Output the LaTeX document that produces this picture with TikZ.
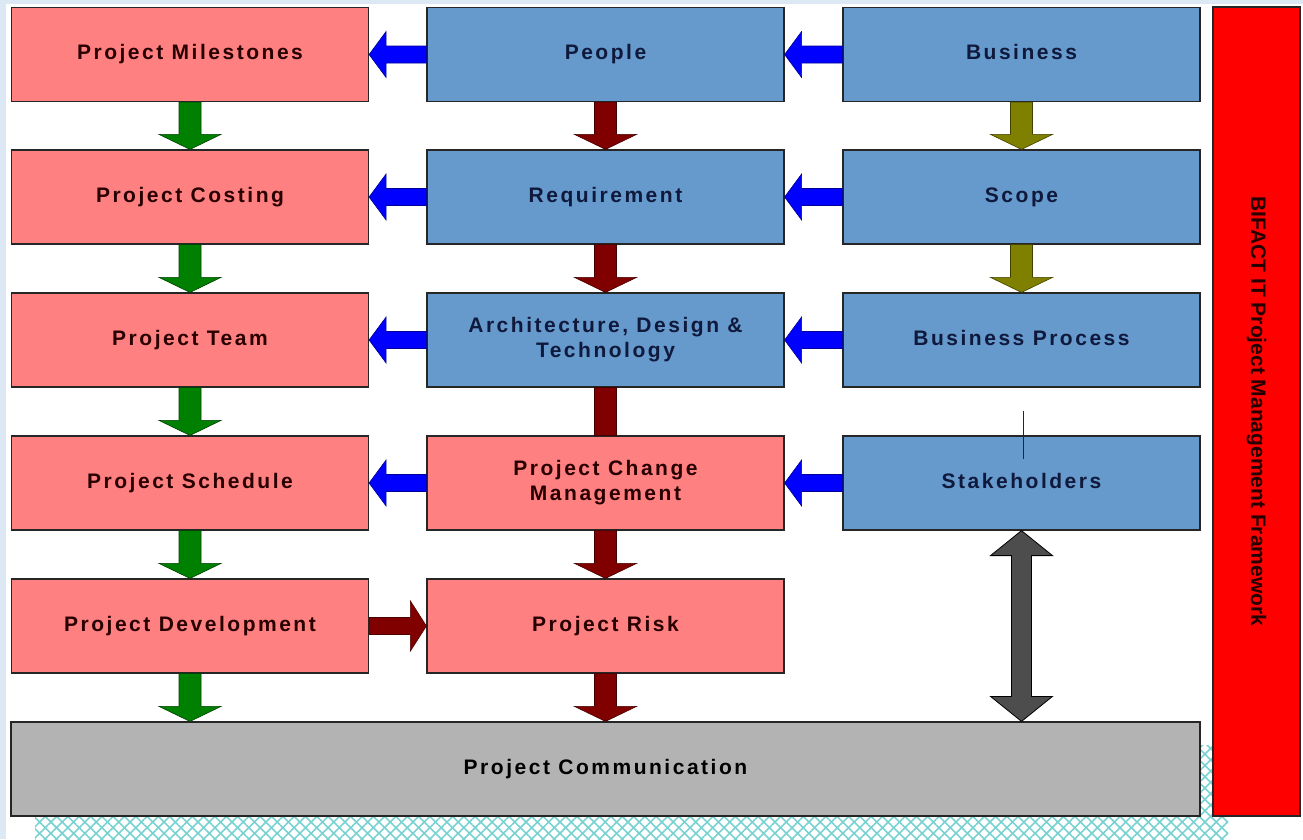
\documentclass[tikz,border=0pt]{standalone}
\usepackage{fontspec}
\setmainfont{Liberation Sans}[LetterSpace=12]
\newfontfamily\barfont{Liberation Sans}
\usetikzlibrary{calc,patterns.meta}
\definecolor{bgblue}{RGB}{220,232,244}
\definecolor{salmon}{RGB}{255,128,128}
\definecolor{boxblue}{RGB}{102,153,204}
\definecolor{boxgray}{RGB}{179,179,179}
\definecolor{barred}{RGB}{255,0,0}
\definecolor{arrblue}{RGB}{0,0,255}
\definecolor{arrred}{RGB}{128,0,0}
\definecolor{arrgreen}{RGB}{0,128,0}
\definecolor{arrolive}{RGB}{128,128,0}
\definecolor{arrgray}{RGB}{77,77,77}
\definecolor{txtred}{RGB}{40,0,0}
\definecolor{txtblue}{RGB}{15,25,60}
\definecolor{hatch}{RGB}{120,210,210}
\newcommand\leftblock[3]{\fill[#3, draw=#3!60!black, line width=0.6pt] let \p1=(#1.west), \p2=(#2.east) in
  (\x1,\y1+8.5pt) -- (\x2+17pt,\y1+8.5pt) -- (\x2+17pt,\y1+23pt) -- (\x2,\y1) -- (\x2+17pt,\y1-23pt) -- (\x2+17pt,\y1-8.5pt) -- (\x1,\y1-8.5pt) -- cycle;}
\newcommand\rightblock[3]{\fill[#3, draw=#3!60!black, line width=0.6pt] let \p1=(#1.east), \p2=(#2.west) in
  (\x1,\y1+8.5pt) -- (\x2-16pt,\y1+8.5pt) -- (\x2-16pt,\y1+25pt) -- (\x2,\y1) -- (\x2-16pt,\y1-25pt) -- (\x2-16pt,\y1-8.5pt) -- (\x1,\y1-8.5pt) -- cycle;}
\newcommand\downblock[3]{\fill[#3, draw=#3!50!black, line width=0.6pt] let \p1=(#1.south), \p2=(#2.north) in
  (\x1-11pt,\y1) -- (\x1+11pt,\y1) -- (\x1+11pt,\y2+15pt) -- (\x1+31pt,\y2+15pt) -- (\x1,\y2) -- (\x1-31pt,\y2+15pt) -- (\x1-11pt,\y2+15pt) -- cycle;}
\newcommand\downbar[3]{\fill[#3, draw=#3!50!black, line width=0.6pt] let \p1=(#1.south), \p2=(#2.north) in
  (\x1-11pt,\y1) -- (\x1+11pt,\y1) -- (\x1+11pt,\y2) -- (\x1-11pt,\y2) -- cycle;}
\newcommand\dblblock[3]{\fill[#3, draw=black, line width=0.8pt] let \p1=(#1.south), \p2=(#2.north) in
  (\x1,\y1) -- (\x1+31pt,\y1-25pt) -- (\x1+10pt,\y1-25pt) -- (\x1+10pt,\y2+25pt) -- (\x1+31pt,\y2+25pt) -- (\x1,\y2) -- (\x1-31pt,\y2+25pt) -- (\x1-10pt,\y2+25pt) -- (\x1-10pt,\y1-25pt) -- (\x1-31pt,\y1-25pt) -- cycle;}
\tikzset{
  box/.style={draw=black!85, line width=1.2pt, inner sep=0pt, minimum width=357pt, minimum height=94pt,
    align=center, font=\bfseries\fontsize{21}{25}\selectfont},
  oneline/.style={text height=15pt, text depth=4.5pt},
  redbox/.style={box, fill=salmon, text=txtred},
  bluebox/.style={box, fill=boxblue, text=txtblue},
}
\begin{document}
\begin{tikzpicture}[x=1pt,y=-1pt]
\useasboundingbox (0,0) rectangle (1303,839);
% background
\fill[bgblue] (0,0) rectangle (1303,839);
\fill[white] (6,4) rectangle (1303,839);
\fill[pattern={Lines[angle=45,distance=8pt,line width=1.6pt]}, pattern color=hatch] (35,745) rectangle (1228,839);
\fill[pattern={Lines[angle=-45,distance=8pt,line width=1.6pt]}, pattern color=hatch] (35,745) rectangle (1228,839);
% column 1
\node[redbox, oneline] (ms) at (190,54.5) {Project Milestones};
\node[redbox, oneline] (pc) at (190,197) {Project Costing};
\node[redbox, oneline] (pt) at (190,340) {Project Team};
\node[redbox, oneline] (ps) at (190,483) {Project Schedule};
\node[redbox, oneline] (pd) at (190,626) {Project Development};
% column 2
\node[bluebox, oneline] (pe) at (605.5,54.5) {People};
\node[bluebox, oneline] (rq) at (605.5,197) {Requirement};
\node[bluebox] (ar) at (605.5,340) {Architecture, Design \&\\Technology};
\node[redbox] (cm) at (605.5,483) {Project Change\\Management};
\node[redbox, oneline] (rk) at (605.5,626) {Project Risk};
% column 3
\node[bluebox, oneline] (bu) at (1021.5,54.5) {Business};
\node[bluebox, oneline] (sc) at (1021.5,197) {Scope};
\node[bluebox, oneline] (bp) at (1021.5,340) {Business Process};
\node[bluebox, oneline] (sh) at (1021.5,483) {Stakeholders};
% bottom
\node[box, oneline, fill=boxgray, text=black, minimum width=1189pt] (com) at (605.5,769) {Project Communication};
% red bar
\node[draw=black!85, line width=1.2pt, fill=barred, minimum width=87pt, minimum height=809pt, inner sep=0pt] (bar) at (1256.5,411.5) {};
\node[rotate=-90, font=\barfont\bfseries\fontsize{21}{24}\selectfont, text=black!85!red] (bartxt) at (bar.center) {BIFACT IT Project Management Framework};
% horizontal arrows
\leftblock{pe}{ms}{arrblue}
\leftblock{bu}{pe}{arrblue}
\leftblock{rq}{pc}{arrblue}
\leftblock{sc}{rq}{arrblue}
\leftblock{ar}{pt}{arrblue}
\leftblock{bp}{ar}{arrblue}
\leftblock{cm}{ps}{arrblue}
\leftblock{sh}{cm}{arrblue}
\rightblock{pd}{rk}{arrred}
% vertical arrows
\downblock{ms}{pc}{arrgreen}
\downblock{pc}{pt}{arrgreen}
\downblock{pt}{ps}{arrgreen}
\downblock{ps}{pd}{arrgreen}
\downblock{pd}{com}{arrgreen}
\downblock{pe}{rq}{arrred}
\downblock{rq}{ar}{arrred}
\downbar{ar}{cm}{arrred}
\downblock{cm}{rk}{arrred}
\downblock{rk}{com}{arrred}
\downblock{bu}{sc}{arrolive}
\downblock{sc}{bp}{arrolive}
\dblblock{sh}{com}{arrgray}
% thin mark on stakeholders
\draw[black!85, line width=0.8pt] ($(sh.north)+(1.5,-24)$) coordinate (tm1) -- ($(sh.north)+(1.5,24)$) coordinate (tm2);
\end{tikzpicture}
\end{document}
